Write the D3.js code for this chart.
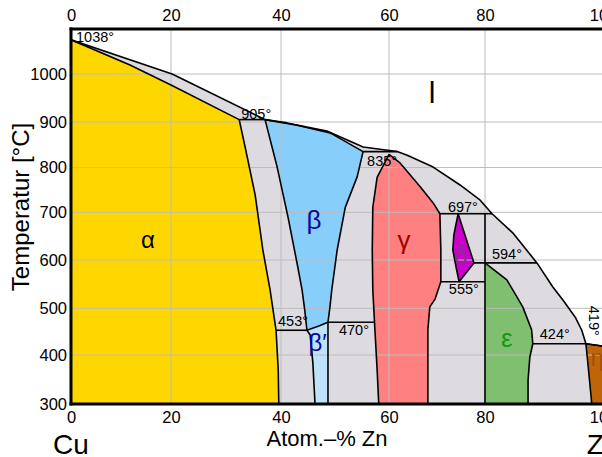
<!DOCTYPE html>
<html>
<head>
<meta charset="utf-8">
<script src="https://cdn.jsdelivr.net/npm/d3@7"></script>
<style>
  body { margin: 0; background: #fff; }
  svg { display: block; }
  text { font-family: "Liberation Sans", Arial, sans-serif; }
</style>
</head>
<body>
<svg id="chart" width="602" height="457"></svg>
<script>
// Cu–Zn phase diagram: composition in atom-% Zn, temperature in °C.
const xTicks = [0, 20, 40, 60, 80, 100];
const yTicks = [300, 400, 500, 600, 700, 800, 900, 1000];

// Liquidus, from pure Cu to pure Zn
const liquidus = [[0,1038],[20.2,1000],[21.6,992],[37.1,905],[41.1,898],[48.5,880],[55.2,845],
  [61.7,835],[63.8,827],[69.2,801],[74.8,761],[79.0,727],[81.2,697],[84.7,657],[88.8,594],
  [91.5,544],[93.2,517],[95.3,481],[96.4,453],[97.1,424],[100,419]];

// α (Cu-rich solid solution)
const alphaSolidus = [[0,1038],[11.8,1010],[20,977],[32.4,905]];
const alphaSolvus = [[32.4,905],[33.6,838],[35.3,739],[36.7,621],[38.0,539],[39.1,453],[39.5,369],[39.6,300]];

// β and ordered β′
const betaLeft = [[37.1,905],[39.3,801],[41.3,690],[43.1,586],[43.9,538],[44.4,496],[44.8,453]];
const betaOrdering = [[44.8,453],[47.0,462],[48.7,470]];
const betaRight = [[48.7,470],[49.1,506],[49.4,538],[50.4,621],[51.9,711],[54.1,779],[55.2,835]];
const betaSolidus = [[55.2,835],[49.1,876],[43.0,893],[37.1,905]];
const betaPrimeLeft = [[44.8,453],[45.4,443],[45.9,384],[46.3,300]];
const betaPrimeRight = [[48.7,470],[48.7,300]];

// γ
const gammaLeft = [[60.0,829],[57.8,778],[57.0,711],[56.9,621],[57.0,538],[57.4,452],[57.8,370],[58.1,300]];
const gammaRight = [[60.0,829],[62.3,810],[66.5,757],[69.2,721],[70.6,697],[70.8,621],[70.8,555],
  [69.6,519],[68.5,503],[68.1,454],[68.1,390],[68.1,300]];

// δ, ε, η
const delta = [[74.4,697],[73.5,652],[73.3,621],[74.0,584],[74.6,555],[77.7,594]];
const epsilonRight = [[80,594],[83.7,559],[86.4,503],[87.9,454],[88.1,424],[87.6,396],[87.3,349],[87.3,300]];
const eta = [[97.1,424],[100,419],[100,300],[98.1,300],[97.5,375]];

// Invariant isotherms: temperature, left and right composition
const isoTemps = [905, 835, 697, 594, 555, 470, 453, 424];
const isoFrom  = [32.4, 55.2, 70.6, 77.7, 70.8, 48.7, 39.1, 88.1];
const isoTo    = [37.1, 61.7, 81.2, 88.8, 80.0, 57.3, 44.8, 97.1];

// Phase names
const phaseNames = ["α", "β", "β′", "γ", "δ", "ε", "η", "l"];

// ---------------------------------------------------------------------
const svg = d3.select("#chart");

const x = d3.scaleLinear()
  .domain(xTicks)
  .range([71, 171, 281, 389, 485, 603]);
const y = d3.scaleLinear()
  .domain([300, 400, 500, 600, 700, 800, 900, 1000, 1050])
  .range([404, 355, 308.3, 260, 212.3, 167.5, 122, 74, 29]);

const pLeft = x(0), pRight = x(100), pTop = y(1050), pBottom = y(300);

svg.append("clipPath").attr("id", "plot-clip")
  .append("rect").attr("x", pLeft).attr("y", pTop)
  .attr("width", pRight - pLeft).attr("height", pBottom - pTop);

const plot = svg.append("g").attr("clip-path", "url(#plot-clip)");
const line = d3.line().x(d => x(d[0])).y(d => y(d[1]));
const area = pts => line(pts) + "Z";

// two-phase fields: everything below the liquidus
plot.append("path")
  .attr("d", area(liquidus.concat([[100,300],[0,300]])))
  .attr("fill", "#dedbe0");

const fields = [
  { pts: alphaSolidus.concat(alphaSolvus.slice(1), [[0,300]]), fill: "#ffd700" },
  { pts: betaLeft.concat(betaOrdering.slice(1), betaRight.slice(1), betaSolidus.slice(1)), fill: "#87cefa" },
  { pts: betaOrdering.concat(betaPrimeRight.slice(1), betaPrimeLeft.slice().reverse()), fill: "#bfe2fb" },
  { pts: gammaRight.concat(gammaLeft.slice().reverse()), fill: "#ff8080" },
  { pts: delta, fill: "#cc00cc" },
  { pts: epsilonRight.concat([[80,300]]), fill: "#7fbf6f" },
  { pts: eta, fill: "#c0640a" }
];
plot.selectAll("path.field").data(fields).enter().append("path")
  .attr("class", "field")
  .attr("d", d => area(d.pts))
  .attr("fill", d => d.fill);

// grid
const grid = plot.append("g").attr("stroke", "#bcbcbc").attr("stroke-width", 1);
grid.selectAll("line.v").data(xTicks.slice(1, -1)).enter().append("line")
  .attr("x1", d => x(d)).attr("x2", d => x(d)).attr("y1", pTop).attr("y2", pBottom);
grid.selectAll("line.h").data(yTicks.slice(1)).enter().append("line")
  .attr("y1", d => y(d)).attr("y2", d => y(d)).attr("x1", pLeft).attr("x2", pRight);

// phase boundaries
const bounds = plot.append("g").attr("fill", "none").attr("stroke", "#000")
  .attr("stroke-width", 1.6).attr("stroke-linejoin", "round");
[liquidus, alphaSolidus, alphaSolvus, betaLeft, betaOrdering, betaRight, betaSolidus,
 betaPrimeLeft, betaPrimeRight, gammaLeft, gammaRight, epsilonRight, [[80,697],[80,300]],
 [[97.1,424],[97.5,375],[98.1,300]], [[97.1,424],[100,419]]]
  .forEach(pts => bounds.append("path").attr("d", line(pts)));
bounds.append("path").attr("d", area(delta));
isoTemps.forEach((t, i) => bounds.append("line")
  .attr("x1", x(isoFrom[i])).attr("x2", x(isoTo[i]))
  .attr("y1", y(t)).attr("y2", y(t)));

// temperature annotations
const tempLabels = [
  { text: "1038°", px: x(0) + 5,        py: y(1038) + 2 },
  { text: "905°",  px: x(isoFrom[0]) + 2,  py: y(905) - 1 },
  { text: "835°",  px: x(isoFrom[1]) + 4,  py: y(835) + 14 },
  { text: "697°",  px: x(isoFrom[2]) + 8,  py: y(697) - 2 },
  { text: "594°",  px: x(isoFrom[3]) + 18, py: y(594) - 4 },
  { text: "555°",  px: x(isoFrom[4]) + 8,  py: y(555) + 12 },
  { text: "470°",  px: x(isoFrom[5]) + 11, py: y(470) + 13 },
  { text: "453°",  px: x(isoFrom[6]) + 2,  py: y(453) - 4 },
  { text: "424°",  px: x(isoFrom[7]) + 7,  py: y(424) - 5 }
];
plot.selectAll("text.temp").data(tempLabels).enter().append("text")
  .attr("class", "temp")
  .attr("x", d => d.px).attr("y", d => d.py)
  .attr("font-size", 14.5).attr("fill", "#000")
  .text(d => d.text);
plot.append("text")
  .attr("transform", `translate(${x(97.1) + 3},${y(424) - 23}) rotate(90)`)
  .attr("text-anchor", "middle").attr("font-size", 14.5)
  .text("419°");

// phase names
const phaseStyle = [
  { at: [15.4, 642], color: "#000000", size: 24 },
  { at: [46.1, 684], color: "#0a0a9a", size: 26 },
  { at: [46.8, 426], color: "#0a0a9a", size: 24 },
  { at: [63.1, 642], color: "#a00000", size: 26 },
  { at: [75.0, 610], color: "#8e2a8e", size: 24 },
  { at: [83.7, 437], color: "#119a11", size: 26 },
  { at: [99.0, 394], color: "#a0500a", size: 24 },
  { at: [69.0, 962], color: "#000000", size: 30 }
];
plot.selectAll("text.phase").data(phaseNames).enter().append("text")
  .attr("class", "phase")
  .attr("x", (d, i) => x(phaseStyle[i].at[0]))
  .attr("y", (d, i) => y(phaseStyle[i].at[1]))
  .attr("text-anchor", "middle").attr("dominant-baseline", "central")
  .attr("font-size", (d, i) => phaseStyle[i].size)
  .attr("fill", (d, i) => phaseStyle[i].color)
  .text(d => d);

// frame
const frame = svg.append("g").attr("stroke", "#000").attr("stroke-width", 3)
  .attr("stroke-linecap", "square");
frame.append("line").attr("x1", pLeft).attr("x2", pRight).attr("y1", pTop).attr("y2", pTop);
frame.append("line").attr("x1", pLeft).attr("x2", pLeft).attr("y1", pTop).attr("y2", pBottom);
frame.append("line").attr("x1", pLeft).attr("x2", pRight).attr("y1", pBottom).attr("y2", pBottom);

// axes (labels only)
const topAxis = d3.axisTop(x).tickValues(xTicks).tickSize(0).tickPadding(8).tickFormat(d3.format("d"));
const bottomAxis = d3.axisBottom(x).tickValues(xTicks).tickSize(0).tickPadding(7).tickFormat(d3.format("d"));
const leftAxis = d3.axisLeft(y).tickValues(yTicks).tickSize(0).tickPadding(4).tickFormat(d3.format("d"));
[[topAxis, `translate(0,${pTop})`], [bottomAxis, `translate(0,${pBottom})`], [leftAxis, `translate(${pLeft},0)`]]
  .forEach(([ax, tr]) => {
    const g = svg.append("g").attr("transform", tr).call(ax);
    g.select(".domain").remove();
    g.selectAll("text").attr("font-size", 16.5).attr("fill", "#000")
      .attr("font-family", '"Liberation Sans", Arial, sans-serif');
  });

// axis titles and element names
svg.append("text")
  .attr("transform", "translate(29,207) rotate(-90)")
  .attr("text-anchor", "middle").attr("font-size", 24)
  .text("Temperatur [°C]");
svg.append("text")
  .attr("x", 327).attr("y", 446)
  .attr("text-anchor", "middle").attr("font-size", 22)
  .text("Atom.–% Zn");
svg.append("text").attr("x", x(0)).attr("y", 454)
  .attr("text-anchor", "middle").attr("font-size", 28).text("Cu");
svg.append("text").attr("x", x(100)).attr("y", 454)
  .attr("text-anchor", "middle").attr("font-size", 28).text("Zn");
</script>
</body>
</html>
